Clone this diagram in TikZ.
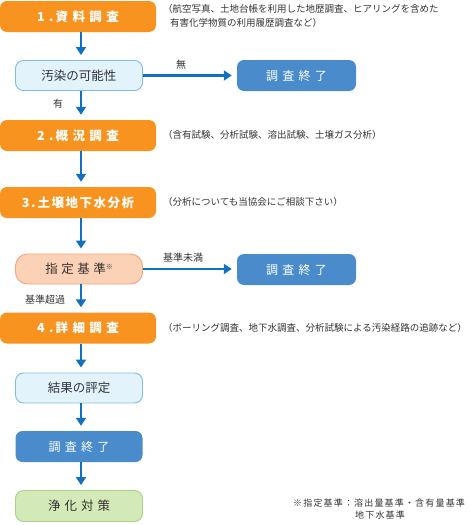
\documentclass[tikz,border=0pt]{standalone}
\usepackage{fontspec}
\setmainfont{Noto Sans CJK JP}
\usetikzlibrary{arrows.meta}
\definecolor{orng}{HTML}{F7931E}
\definecolor{bluebox}{HTML}{4A8CCB}
\definecolor{arrowc}{HTML}{1170BF}
\definecolor{lbfill}{HTML}{E3F3FC}
\definecolor{lbdraw}{HTML}{80BCE6}
\definecolor{pkfill}{HTML}{FCD2B6}
\definecolor{pkdraw}{HTML}{F2A27C}
\definecolor{grfill}{HTML}{D4E9B8}
\definecolor{grdraw}{HTML}{A5D48A}
\definecolor{txt}{HTML}{333333}
\newcommand{\ls}[2]{{\addfontfeature{LetterSpace=#1}#2}}
\begin{document}
\begin{tikzpicture}[x=1pt,y=-1pt,
  orangebox/.style={fill=orng, rounded corners=7pt, minimum width=156pt, minimum height=31pt,
    text=white, inner sep=0pt, font=\bfseries\fontsize{12.5}{14}\selectfont},
  lightbox/.style={fill=lbfill, draw=lbdraw, line width=0.9pt, rounded corners=8pt,
    minimum width=127pt, minimum height=30pt, text=txt, inner sep=0pt, font=\fontsize{12.5}{14}\selectfont},
  pinkbox/.style={fill=pkfill, draw=pkdraw, line width=0.9pt, rounded corners=12pt,
    minimum width=127pt, minimum height=30pt, text=txt, inner sep=0pt, font=\fontsize{12.5}{14}\selectfont},
  greenbox/.style={fill=grfill, draw=grdraw, line width=0.9pt, rounded corners=8pt,
    minimum width=127pt, minimum height=31pt, text=txt, inner sep=0pt, font=\fontsize{12.5}{14}\selectfont},
  endbox/.style={fill=bluebox, rounded corners=7pt, minimum width=119pt, minimum height=31pt,
    text=white, inner sep=0pt, font=\fontsize{12}{14}\selectfont},
  arr/.style={draw=arrowc, line width=2.4pt, -{Triangle[width=10pt,length=8pt]}, shorten >=5pt},
  note/.style={anchor=west, text=txt, inner sep=0pt, font=\fontsize{9.5}{11}\selectfont},
  lab/.style={text=txt, inner sep=0pt, font=\fontsize{10}{12}\selectfont}
]
\useasboundingbox (0,0) rectangle (470,525);

% main column
\node[orangebox] (b1) at (78,16.5) {\ls{35}{1.\,資料調査}};
\node[lightbox] (p1) at (79,75.5) {汚染の可能性};
\node[endbox] (e1) at (296.5,75.5) {\ls{35}{調査終了}};
\node[orangebox] (b2) at (78,135.5) {\ls{35}{2.\,概況調査}};
\node[orangebox] (b3) at (78,202.5) {\ls{12}{3.\,土壌地下水分析}};
\node[pinkbox] (k1) at (79,269) {\ls{28}{指定基準}\raisebox{4pt}{\fontsize{7}{8}\selectfont ※}};
\node[endbox] (e2) at (296.5,269.5) {\ls{35}{調査終了}};
\node[orangebox] (b4) at (78,328) {\ls{35}{4.\,詳細調査}};
\node[lightbox] (r1) at (79,388) {結果の評定};
\node[endbox, minimum width=127pt] (e3) at (79,446.5) {\ls{35}{調査終了}};
\node[greenbox] (g1) at (79,506) {\ls{32}{浄化対策}};

% arrows
\draw[arr] (b1.south -| 81,0) -- (p1.north -| 81,0);
\draw[arr] (p1.east) -- (e1.west);
\draw[arr] (p1.south -| 81,0) -- (b2.north -| 81,0);
\draw[arr] (b2.south -| 81,0) -- (b3.north -| 81,0);
\draw[arr] (b3.south -| 81,0) -- (k1.north -| 81,0);
\draw[arr] (k1.east) -- (e2.west |- k1.east);
\draw[arr] (k1.south -| 81,0) -- (b4.north -| 81,0);
\draw[arr] (b4.south -| 81,0) -- (r1.north -| 81,0);
\draw[arr] (r1.south -| 81,0) -- (e3.north -| 81,0);
\draw[arr] (e3.south -| 81,0) -- (g1.north -| 81,0);

% arrow labels
\node[lab] (l1) at (181,65) {無};
\node[lab] (l2) at (58,104) {有};
\node[lab] (l3) at (183,258) {基準未満};
\node[lab] (l4) at (45,300) {基準超過};

% notes
\node[note] (n1a) at (163,9) {（航空写真、土地台帳を利用した地歴調査、ヒアリングを含めた};
\node[note] (n1b) at (170,23) {有害化学物質の利用履歴調査など）};
\node[note] (n2) at (163,135) {（含有試験、分析試験、溶出試験、土壌ガス分析）};
\node[note] (n3) at (163,202) {（分析についても当協会にご相談下さい）};
\node[note] (n4) at (163,328) {（ボーリング調査、地下水調査、分析試験による汚染経路の追跡など）};

% footnote
\node[note, font=\fontsize{9}{11}\selectfont] (f1) at (293,503) {\ls{13}{※指定基準：溶出量基準・含有量基準}};
\node[note, font=\fontsize{9}{11}\selectfont] (f2) at (355,515) {\ls{13}{地下水基準}};
\end{tikzpicture}
\end{document}
